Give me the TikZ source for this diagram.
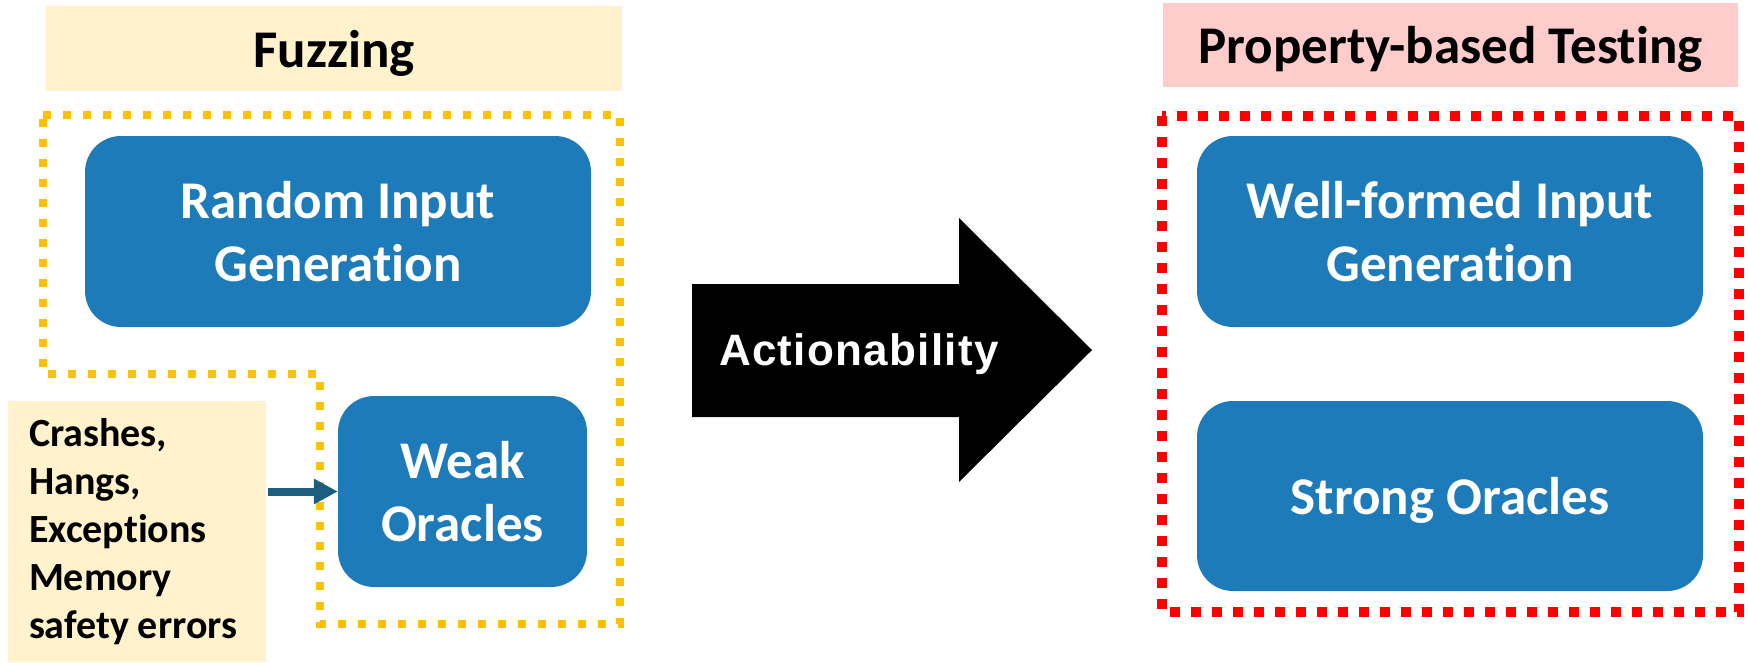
\documentclass[tikz,border=0pt]{standalone}
\usepackage{fontspec}
\setmainfont{Carlito}[Ligatures=NoCommon]
\newfontfamily\arrowfont{Liberation Sans}[LetterSpace=3]
\usetikzlibrary{arrows.meta}

\definecolor{fuzzbg}{HTML}{FFF2CC}
\definecolor{pbtbg}{HTML}{FFCCCC}
\definecolor{stepblue}{RGB}{29,123,185}
\definecolor{feedteal}{RGB}{27,94,128}
\definecolor{fuzzline}{HTML}{FFC000}
\definecolor{pbtline}{HTML}{FF0000}

\tikzset{
    banner/.style={minimum width=576pt, minimum height=85pt, inner sep=0pt,
        text height=37pt, text depth=0pt,
        font=\fontsize{53}{63}\selectfont\bfseries},
    stepbox/.style={fill=stepblue, rounded corners=36pt, text=white, align=center,
        inner sep=0pt, font=\fontsize{53}{63}\selectfont\bfseries},
    notebox/.style={fill=fuzzbg, align=left, inner xsep=21pt, inner ysep=0pt,
        text width=216pt, minimum height=261pt,
        font=\fontsize{40}{48}\selectfont\bfseries},
    fuzzdots/.style={draw=fuzzline, line width=8pt, dash pattern=on 8pt off 12pt},
    pbtdots/.style={draw=pbtline, line width=10pt, dash pattern=on 10pt off 11pt}
}

\begin{document}
\begin{tikzpicture}[x=1pt, y=-1pt]
        \useasboundingbox (0,0) rectangle (1748,662);

        % left: fuzzing
        \node[banner, fill=fuzzbg] (fuzz) at (334,48.5) {Fuzzing};
        \draw[fuzzdots] (43,115) -- (620,115) -- (620,624) -- (320,624)
            -- (320,374) -- (43,374) -- cycle;
        \node[stepbox, minimum width=506pt, minimum height=191pt] (randgen)
            at (338,231.5) {Random Input\\Generation};
        \node[stepbox, minimum width=249pt, minimum height=191pt] (weak)
            at (462.5,491.5) {Weak\\Oracles};
        \node[notebox] (crash) at (137,531.5)
            {Crashes,\\Hangs,\\Exceptions\\Memory\\safety\hspace{0.22em}errors};
        \draw[-{Triangle[length=24pt,width=24pt]}, feedteal, line width=8pt,
            shorten <=2pt] (crash.east |- weak.west) -- (weak.west);

        % middle arrow
        \fill (692,284) -- (959,284) -- (959,218) -- (1092,350) -- (959,482)
            -- (959,417) -- (692,417) -- cycle;
        \node[anchor=base, text=white, inner sep=0pt,
            font=\arrowfont\fontsize{44}{52}\selectfont\bfseries]
            (act) at (859,365) {Actionability};

        % right: property-based testing
        \node[banner, fill=pbtbg, minimum width=575pt, minimum height=84pt] (pbt)
            at (1450.5,45) {Property-based Testing};
        \draw[pbtdots] (1162,116) rectangle (1739,612);
        \node[stepbox, minimum width=506pt, minimum height=191pt] (wellgen)
            at (1450,231.5) {Well-formed Input\\Generation};
        \node[stepbox, minimum width=506pt, minimum height=190pt,
            text height=36pt, text depth=0pt] (strong)
            at (1450,496) {Strong Oracles};
\end{tikzpicture}
\end{document}
